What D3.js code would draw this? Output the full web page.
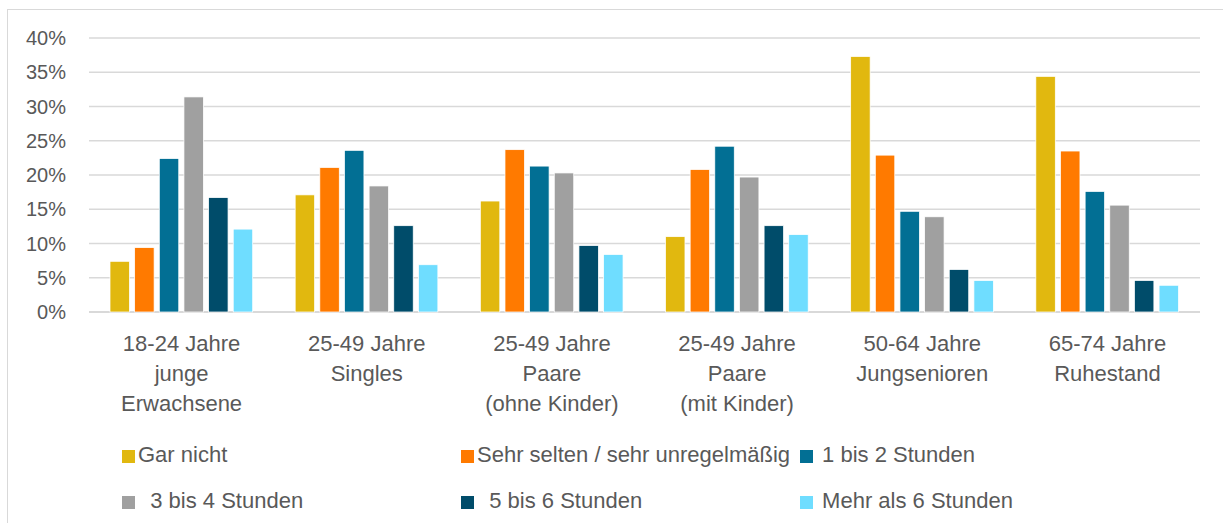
<!DOCTYPE html>
<html>
<head>
<meta charset="utf-8">
<script src="https://cdn.jsdelivr.net/npm/d3@7"></script>
<style>
  body { margin: 0; background: #fff; }
  text { font-family: "Liberation Sans", Arial, sans-serif; fill: #595959; }
</style>
</head>
<body>
<div id="chart"></div>
<script>
var categories = [
  ['18-24 Jahre', 'junge', 'Erwachsene'],
  ['25-49 Jahre', 'Singles'],
  ['25-49 Jahre', 'Paare', '(ohne Kinder)'],
  ['25-49 Jahre', 'Paare', '(mit Kinder)'],
  ['50-64 Jahre', 'Jungsenioren'],
  ['65-74 Jahre', 'Ruhestand']
];

var seriesNames = [
  'Gar nicht',
  'Sehr selten / sehr unregelmäßig',
  ' 1 bis 2 Stunden',
  '  3 bis 4 Stunden',
  '  5 bis 6 Stunden',
  ' Mehr als 6 Stunden'
];

var garNicht    = [7.4, 17.1, 16.2, 11.0, 37.3, 34.4];
var sehrSelten  = [9.4, 21.1, 23.7, 20.8, 22.9, 23.5];
var std1bis2    = [22.4, 23.6, 21.3, 24.2, 14.7, 17.6];
var std3bis4    = [31.4, 18.4, 20.3, 19.7, 13.9, 15.6];
var std5bis6    = [16.7, 12.6, 9.7, 12.6, 6.2, 4.6];
var mehrAls6    = [12.1, 6.9, 8.4, 11.3, 4.6, 3.9];

var yTicks = [0, 5, 10, 15, 20, 25, 30, 35, 40];

var colors = ['#E1B80F', '#FF7A00', '#026F94', '#A0A0A0', '#004C6A', '#6FDDFF'];

var values = [garNicht, sehrSelten, std1bis2, std3bis4, std5bis6, mehrAls6];

var width = 1223, height = 523;

var svg = d3.select('#chart').append('svg')
    .attr('width', width)
    .attr('height', height);

// chart frame
svg.append('rect')
    .attr('x', 7.5).attr('y', 9.5)
    .attr('width', 1222).attr('height', 520)
    .attr('fill', 'none')
    .attr('stroke', '#D9D9D9')
    .attr('stroke-width', 1);

var y = d3.scaleLinear().domain([0, 40]).range([312, 38]);

var x0 = d3.scaleBand()
    .domain(d3.range(categories.length))
    .range([89, 1200])
    .padding(0);

var x1 = d3.scaleBand()
    .domain(d3.range(seriesNames.length))
    .range([21, 163.7])
    .paddingInner(0.21)
    .paddingOuter(0);

// gridlines
svg.append('g').selectAll('line')
    .data(yTicks)
    .join('line')
    .attr('x1', 89).attr('x2', 1200)
    .attr('y1', function(d) { return y(d); })
    .attr('y2', function(d) { return y(d); })
    .attr('stroke', '#D9D9D9')
    .attr('stroke-width', function(d) { return d === 0 ? 2 : 1.5; });

// y labels
svg.append('g').selectAll('text')
    .data(yTicks)
    .join('text')
    .attr('x', 66)
    .attr('y', function(d) { return y(d) + 7; })
    .attr('text-anchor', 'end')
    .attr('font-size', 20)
    .text(function(d) { return d + '%'; });

// bars
var groups = svg.append('g').selectAll('g')
    .data(categories)
    .join('g')
    .attr('transform', function(d, i) { return 'translate(' + x0(i) + ',0)'; });

groups.selectAll('rect')
    .data(function(d, i) { return values.map(function(s, j) { return {s: j, v: s[i]}; }); })
    .join('rect')
    .attr('x', function(d) { return x1(d.s); })
    .attr('width', x1.bandwidth())
    .attr('y', function(d) { return y(d.v); })
    .attr('height', function(d) { return y(0) - y(d.v); })
    .attr('fill', function(d) { return colors[d.s]; })
    .attr('stroke', '#fff')
    .attr('stroke-width', 0.75);

// category labels
var cat = svg.append('g').selectAll('text')
    .data(categories)
    .join('text')
    .attr('text-anchor', 'middle')
    .attr('font-size', 22)
    .attr('x', function(d, i) { return x0(i) + x0.bandwidth() / 2; });

cat.selectAll('tspan')
    .data(function(d) { return d; })
    .join('tspan')
    .attr('x', function() { return d3.select(this.parentNode).attr('x'); })
    .attr('y', function(d, i) { return 351 + i * 30; })
    .text(function(d) { return d; });

// legend
var legend = svg.append('g').selectAll('g')
    .data(seriesNames)
    .join('g')
    .attr('transform', function(d, i) {
      return 'translate(' + (122 + (i % 3) * 339) + ',' + (450 + Math.floor(i / 3) * 46) + ')';
    });

legend.append('rect')
    .attr('width', 13).attr('height', 13)
    .attr('fill', function(d, i) { return colors[i]; });

legend.append('text')
    .attr('x', 16)
    .attr('y', 12)
    .attr('font-size', 22)
    .style('white-space', 'pre')
    .text(function(d) { return d; });
</script>
</body>
</html>
